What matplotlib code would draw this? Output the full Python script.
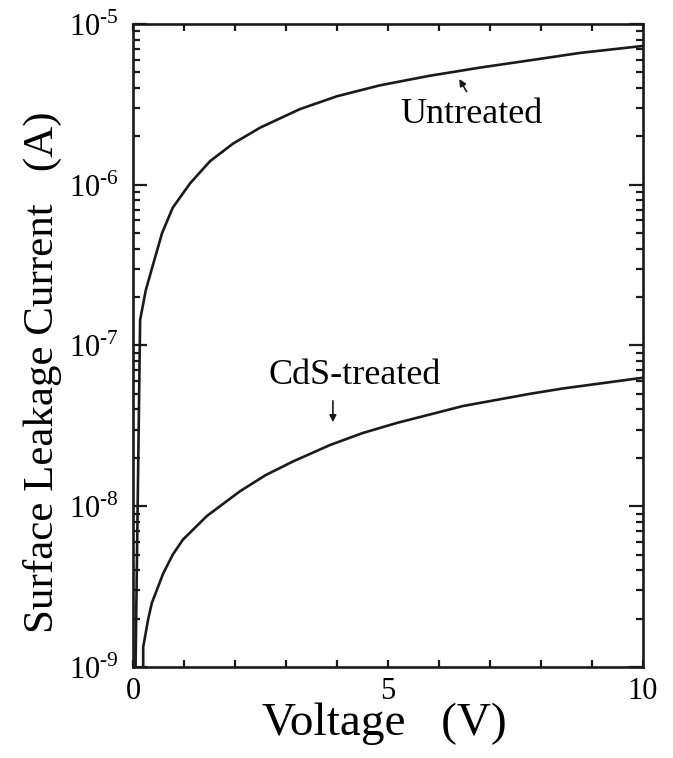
import matplotlib
matplotlib.use('Agg')
import matplotlib.pyplot as plt
from matplotlib.ticker import LogLocator, MultipleLocator, NullFormatter

plt.rcParams['font.family'] = ['Liberation Serif', 'DejaVu Serif']
plt.rcParams['mathtext.fontset'] = 'custom'
plt.rcParams['mathtext.rm'] = 'Liberation Serif'

# values
untreated_v = [0.05, 0.14, 0.25, 0.37, 0.57, 0.78, 1.12, 1.51, 1.96, 2.5, 3.27,
               4.0, 4.84, 5.8, 6.8, 7.8, 8.76, 10.0]
untreated_i = [1.0e-9, 1.44e-7, 2.2e-7, 3.0e-7, 5.0e-7, 7.2e-7, 1.02e-6, 1.40e-6,
               1.8e-6, 2.27e-6, 2.95e-6, 3.55e-6, 4.15e-6, 4.75e-6, 5.35e-6,
               5.95e-6, 6.6e-6, 7.3e-6]

cds_v = [0.2, 0.2, 0.3, 0.37, 0.59, 0.78, 0.98, 1.45, 2.10, 2.6, 3.14, 3.86, 4.5,
         5.18, 6.47, 7.78, 8.43, 10.0]
cds_i = [1.0e-9, 1.33e-9, 2.0e-9, 2.5e-9, 3.8e-9, 5.0e-9, 6.2e-9, 8.7e-9, 1.24e-8,
         1.56e-8, 1.9e-8, 2.4e-8, 2.85e-8, 3.3e-8, 4.2e-8, 5.0e-8, 5.4e-8, 6.3e-8]

x_ticks = [0, 5, 10]
y_ticks = [1e-9, 1e-8, 1e-7, 1e-6, 1e-5]
y_tick_labels = [r'$10^{\text{-}9}$', r'$10^{\text{-}8}$', r'$10^{\text{-}7}$',
                 r'$10^{\text{-}6}$', r'$10^{\text{-}5}$']

fig = plt.figure(figsize=(6.73, 7.58), dpi=100)
ax = fig.add_axes([0.1976, 0.1201, 0.7578, 0.8483])

ax.plot(untreated_v, untreated_i, color='#1a1a1a', linewidth=1.9)
ax.plot(cds_v, cds_i, color='#1a1a1a', linewidth=1.9)

ax.set_yscale('log')
ax.set_xlim(0, 10)
ax.set_ylim(1e-9, 1e-5)

ax.set_xticks(x_ticks)
ax.set_xticklabels([str(t) for t in x_ticks])
ax.xaxis.set_minor_locator(MultipleLocator(1))
ax.set_yticks(y_ticks)
ax.set_yticklabels(y_tick_labels)
ax.yaxis.set_minor_locator(LogLocator(base=10, subs=range(2, 10)))
ax.yaxis.set_minor_formatter(NullFormatter())

ax.tick_params(which='both', direction='in', top=True, right=True, width=1.6,
               color='#1a1a1a', labelsize=22)
ax.tick_params(axis='x', which='both', length=5, pad=7)
ax.tick_params(axis='y', which='major', length=10, pad=10)
ax.tick_params(axis='y', which='minor', length=5)
for s in ax.spines.values():
    s.set_linewidth(1.9)
    s.set_color('#1a1a1a')

ax.set_xlabel('Voltage   (V)', fontsize=34)
ax.set_ylabel('Surface Leakage Current   (A)', fontsize=31)
ax.xaxis.set_label_coords(0.492, -0.056)
ax.yaxis.set_label_coords(-0.139, 0.459)

ax.annotate('', xy=(6.37, 4.7e-6), xytext=(6.57, 3.67e-6),
            arrowprops=dict(arrowstyle='-|>', color='#1a1a1a', lw=1.2,
                            mutation_scale=10))
ax.text(6.63, 2.75e-6, 'Untreated', fontsize=26, ha='center', va='center')

ax.annotate('', xy=(3.92, 3.2e-8), xytext=(3.92, 4.7e-8),
            arrowprops=dict(arrowstyle='-|>', color='#1a1a1a', lw=1.2,
                            mutation_scale=10))
ax.text(4.35, 6.5e-8, 'CdS-treated', fontsize=26, ha='center', va='center')

plt.savefig('out.png', dpi=100)
